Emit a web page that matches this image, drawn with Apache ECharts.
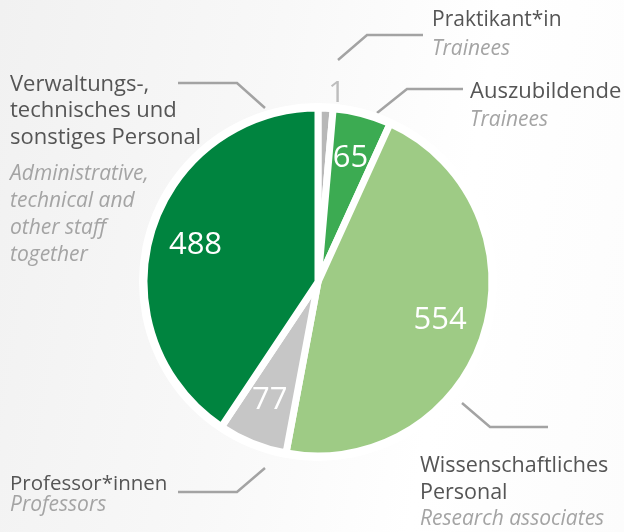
<!DOCTYPE html>
<html>
<head>
<meta charset="utf-8">
<script src="https://cdn.jsdelivr.net/npm/echarts@6/dist/echarts.min.js"></script>
<style>
  html, body { margin: 0; padding: 0; }
  body { background: linear-gradient(100deg, #f1f1f1 0%, #f8f8f8 40%, #ffffff 70%, #fcfcfc 100%); }
  #chart { width: 624px; height: 532px; }
</style>
</head>
<body>
<div id="chart"></div>
<script>
// Beschäftigte nach Gruppen, im Uhrzeigersinn ab 12 Uhr
var groupsDe = ['Praktikant*in', 'Auszubildende', 'Wissenschaftliches\nPersonal', 'Professor*innen', 'Verwaltungs-,\ntechnisches und\nsonstiges Personal'];
var groupsEn = ['Trainees', 'Trainees', 'Research associates', 'Professors', 'Administrative,\ntechnical and\nother staff\ntogether'];
var headcount = [1, 65, 554, 77, 488];
var sliceColors = ['#b8b8b8', '#3cab52', '#9ecb85', '#c6c6c6', '#00843f'];

// wo die Beschriftungen stehen (Textblock oben links + Knick der Linie)
var labelSpots = [
  { x: 432, y: 6,   lh: 29, gap: 0,  fs: 21, line: [[338, 60], [367, 35], [423, 35]] },
  { x: 470, y: 78,  lh: 28, gap: 0,  fs: 22, line: [[377, 113], [407, 89], [463, 89]] },
  { x: 420, y: 452, lh: 27, gap: 0,  fs: 21.5, line: [[462, 403], [490, 427], [548, 427]] },
  { x: 10,  y: 474, lh: 21, gap: 0,  fs: 20.5, line: [[265, 468], [237, 492], [178, 492]] },
  { x: 10,  y: 71,  lh: 26.7, gap: 10, fs: 22, line: [[265, 108], [237, 83], [178, 83]] }
];

var center = [318, 282];
var total = headcount.reduce(function (a, b) { return a + b; }, 0);
var font = '"Open Sans", "Noto Sans", sans-serif';

function outerText(i) {
  var de = groupsDe[i].split('\n').map(function (s) { return '{de|' + s + '}'; });
  var en = groupsEn[i].split('\n').map(function (s) { return '{en|' + s + '}'; });
  var parts = de;
  if (labelSpots[i].gap) parts = parts.concat(['{sp| }']);
  return parts.concat(en).join('\n');
}

var sliceData = headcount.map(function (v, i) {
  return {
    value: v,
    name: groupsDe[i],
    itemStyle: { color: sliceColors[i] },
    label: { show: i === 0 }
  };
});

var valueData = headcount.map(function (v, i) {
  return { value: v, name: groupsDe[i], label: { show: i !== 0 } };
});

var nameData = headcount.map(function (v, i) {
  var s = labelSpots[i];
  return {
    value: v,
    name: groupsDe[i],
    label: {
      formatter: outerText(i),
      rich: {
        de: { fontFamily: font, fontSize: s.fs, color: '#555555', lineHeight: s.lh },
        en: { fontFamily: font, fontSize: 21, fontStyle: 'italic', color: '#a4a4a4', lineHeight: s.lh },
        sp: { fontSize: 1, lineHeight: s.gap }
      }
    }
  };
});

var chart = echarts.init(document.getElementById('chart'), null, { renderer: 'canvas' });
chart.setOption({
  backgroundColor: 'transparent',
  animation: false,
  series: [
    {
      // weiße Scheibe hinter dem Kreis
      type: 'pie', silent: true, center: center, radius: 179,
      label: { show: false }, labelLine: { show: false },
      emphasis: { disabled: true },
      itemStyle: { color: '#ffffff' },
      data: [{ value: total, name: 'gesamt' }]
    },
    {
      type: 'pie', silent: true, center: center, radius: 174,
      startAngle: 90, clockwise: true, minAngle: 5,
      avoidLabelOverlap: false,
      emphasis: { disabled: true },
      itemStyle: { borderColor: '#ffffff', borderWidth: 7 },
      label: {
        position: 'outside', fontFamily: font, fontSize: 30, color: '#bdbdbd',
        formatter: '{c}', distanceToLabelLine: 2
      },
      labelLine: { show: false, length: 15, length2: 0 },
      data: sliceData
    },
    {
      type: 'pie', silent: true, center: center, radius: [60, 190],
      startAngle: 90, clockwise: true, minAngle: 5,
      avoidLabelOverlap: false,
      emphasis: { disabled: true },
      itemStyle: { color: 'rgba(0,0,0,0)' },
      label: {
        position: 'inside', fontFamily: font, fontSize: 31, color: '#ffffff',
        formatter: '{c}'
      },
      labelLine: { show: false },
      data: valueData
    },
    {
      type: 'pie', silent: true, center: center, radius: 174,
      startAngle: 90, clockwise: true, minAngle: 5,
      avoidLabelOverlap: false,
      emphasis: { disabled: true },
      itemStyle: { color: 'rgba(0,0,0,0)' },
      label: { position: 'outside', align: 'left' },
      labelLine: { show: true, length: 10, length2: 10, lineStyle: { color: '#a3a3a3', width: 2.5 } },
      labelLayout: function (p) {
        var s = labelSpots[p.dataIndex];
        return { x: s.x, y: s.y, align: 'left', verticalAlign: 'top', labelLinePoints: s.line };
      },
      data: nameData
    }
  ]
});
</script>
</body>
</html>
